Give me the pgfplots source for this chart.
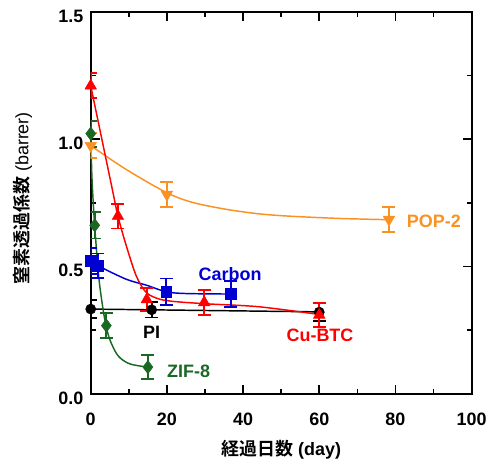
\documentclass[border=0pt]{standalone}
\usepackage{pgfplots}
\pgfplotsset{compat=1.18}
\usepackage{fontspec}
\setmainfont{Liberation Sans}
\newfontfamily\cjk[BoldFont={Noto Sans CJK JP Bold}]{Noto Sans CJK JP}

\definecolor{cred}{RGB}{255,0,0}
\definecolor{cblue}{RGB}{0,0,210}
\definecolor{cgreen}{RGB}{25,105,35}
\definecolor{corange}{RGB}{250,145,35}

\begin{document}
\begin{tikzpicture}
\begin{axis}[
    scale only axis,
    width=286.5pt, height=287.25pt,
    xmin=0, xmax=100, ymin=0, ymax=1.5,
    xtick={0,20,...,100}, ytick={0,0.5,1,1.5},
    minor x tick num=1, minor y tick num=1,
    tick align=inside,
    major tick length=6.75pt, minor tick length=3.75pt,
    every tick/.style={black, line width=1.2pt},
    axis line style={line width=1.5pt},
    /pgf/number format/assume math mode=true,
    ticklabel style={font=\fontsize{13.5}{16}\selectfont\bfseries},
    yticklabel style={/pgf/number format/fixed, /pgf/number format/fixed zerofill, /pgf/number format/precision=1, xshift=-2pt, yshift=-3pt},
    xticklabel style={yshift=-11pt},
    xlabel={{\cjk\bfseries 経過日数} \bfseries(day)},
    ylabel={{\cjk\bfseries 窒素透過係数} (barrer)},
    label style={font=\fontsize{13.5}{16}\selectfont},
    xlabel style={at={(axis description cs:0.5,-0.146)}, anchor=center},
    ylabel style={at={(axis description cs:-0.179,0.512)}, anchor=center},
    error bars/error bar style={line width=1.3pt},
    error bars/error mark options={rotate=90, mark size=4.9pt, line width=1.3pt},
]
% fitted curves
\addplot[corange, line width=1.1pt, smooth] coordinates {
    (0,0.975) (9.35,0.881) (19.97,0.790) (26.7,0.752) (35.5,0.725)
    (44.2,0.707) (52.1,0.698) (65.2,0.689) (78.3,0.684)};
\addplot[black, line width=1.1pt] coordinates {
    (0,0.333) (16,0.330) (60,0.322)};
\addplot[cblue, line width=1.1pt, smooth] coordinates {
    (0,0.522) (1.9,0.503) (9.35,0.450) (14.58,0.427) (19.8,0.401)
    (25,0.394) (36.8,0.392)};
\addplot[cred, line width=1.1pt, smooth] coordinates {
    (0,1.21) (5.24,0.834) (7.15,0.698) (9.35,0.581) (11.96,0.463)
    (14.58,0.398) (18.06,0.372) (22.4,0.362) (31.15,0.353) (44.2,0.342)
    (59.9,0.312)};
\addplot[cgreen, line width=1.1pt, smooth] coordinates {
    (0,1.022) (0.34,0.842) (1.05,0.659) (2.17,0.450) (3.66,0.294)
    (4.97,0.215) (7.15,0.150) (10.2,0.118) (15.0,0.105)};

% measured points
\addplot[only marks, corange, mark=triangle*, mark size=5pt, mark options={rotate=180},
    error bars/.cd, y dir=both, y explicit] coordinates {
    (0,0.975) +- (0,0.05)
    (20,0.783) +- (0,0.049)
    (78.3,0.685) +- (0,0.05)};
\addplot[only marks, black, mark=*, mark size=3.8pt,
    error bars/.cd, y dir=both, y explicit] coordinates {
    (0,0.333) +- (0,0.035)
    (16,0.330) +- (0,0.03)
    (60,0.321) +- (0,0.034)};
\addplot[only marks, cblue, mark=square*, mark size=4pt,
    error bars/.cd, y dir=both, y explicit] coordinates {
    (0,0.522) +- (0,0.05)
    (1.9,0.503) +- (0,0.048)
    (19.8,0.401) +- (0,0.052)
    (36.8,0.392) +- (0,0.051)};
\addplot[only marks, cred, mark=triangle*, mark size=5pt,
    error bars/.cd, y dir=both, y explicit] coordinates {
    (0,1.21) +- (0,0.049)
    (7.15,0.698) +- (0,0.049)
    (14.7,0.37) +- (0,0.045)
    (29.8,0.359) +- (0,0.048)
    (60,0.31) +- (0,0.048)};
\addplot[only marks, cgreen, mark=diamond*, mark size=5pt,
    error bars/.cd, y dir=both, y explicit] coordinates {
    (0,1.022) +- (0,0.051)
    (1.05,0.662) +- (0,0.052)
    (4.1,0.268) +- (0,0.05)
    (15.0,0.105) +- (0,0.047)};

\node[corange, font=\fontsize{13.5}{16}\selectfont\bfseries] at (axis cs:90.1,0.678) {POP-2};
\node[cblue, font=\fontsize{13.5}{16}\selectfont\bfseries] at (axis cs:36.6,0.47) {Carbon};
\node[black, font=\fontsize{13.5}{16}\selectfont\bfseries] at (axis cs:16,0.241) {PI};
\node[cred, font=\fontsize{13.5}{16}\selectfont\bfseries] at (axis cs:60.2,0.231) {Cu-BTC};
\node[cgreen, font=\fontsize{13.5}{16}\selectfont\bfseries] at (axis cs:25.7,0.088) {ZIF-8};
\end{axis}
\useasboundingbox ([xshift=-68.25pt, yshift=-52.5pt]current axis.south west)
    rectangle ([xshift=13.5pt, yshift=9pt]current axis.north east);
\end{tikzpicture}
\end{document}
